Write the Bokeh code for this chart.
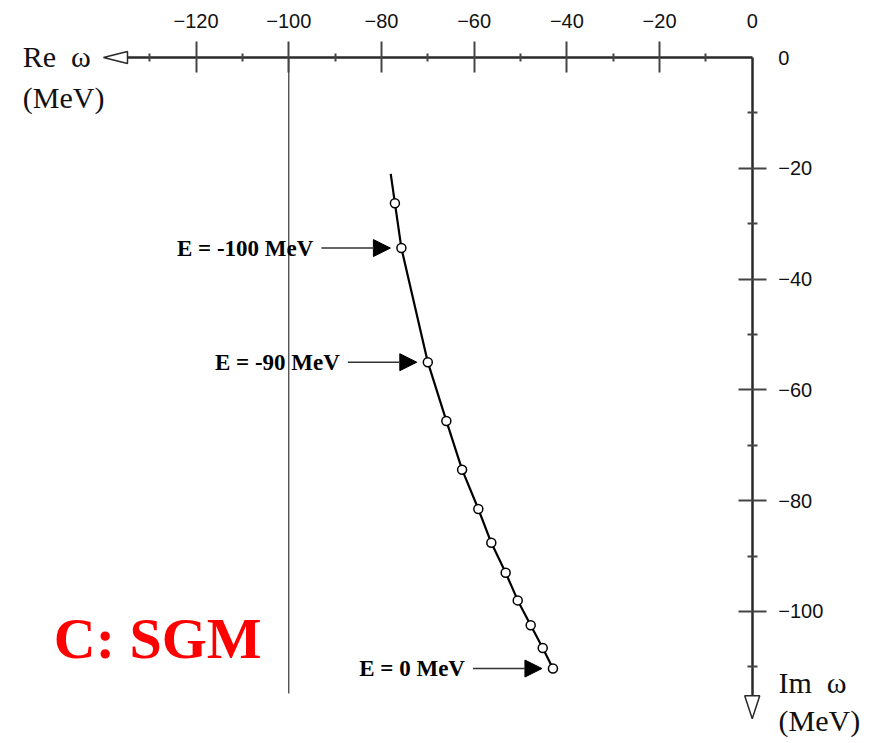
from bokeh.plotting import figure
from bokeh.models import (Range1d, LinearAxis, FixedTicker, Arrow, NormalHead, Label)
from bokeh.core.properties import value
from bokeh.embed import file_html
from bokeh.resources import INLINE

# ---- data ----
re_omega = [-77.1, -75.7, -70.0, -66.0, -62.6, -59.1, -56.3, -53.2, -50.6, -47.8, -45.2, -43.0]
im_omega = [-26.3, -34.4, -55.0, -65.6, -74.4, -81.5, -87.6, -93.0, -98.0, -102.5, -106.6, -110.3]
tail_re = [-78.0]
tail_im = [-21.0]
label_index = [1, 2, 11]
label_text = ["E = -100 MeV", "E = -90 MeV", "E = 0 MeV"]

x_ticks = [-120, -100, -80, -60, -40, -20]
x_minor = [-130, -110, -90, -70, -50, -30, -10]
y_ticks = [-20, -40, -60, -80, -100]
y_minor = [-10, -30, -50, -70, -90, -110]
x_axis_end = -134.8
y_axis_end = -115.2
ref_line_x = -100
ref_line_end = -114.8

W, H = 879, 743
p = figure(width=W, height=H, output_backend="svg", toolbar_location=None,
           x_range=Range1d(-162.2, 27.46), y_range=Range1d(-123.83, 10.29),
           x_axis_type=None, y_axis_type=None, min_border=0,
           outline_line_color=None)
p.xgrid.visible = False
p.ygrid.visible = False
p.background_fill_color = "white"

sx = 4.635  # px per unit x
sy = 5.54   # px per unit y

axis_color = "#2a2a2a"
tick_font = value("Liberation Sans")
tick_size = "20px"

top = LinearAxis(fixed_location=0, bounds=(x_axis_end, 0),
                 ticker=FixedTicker(ticks=x_ticks, minor_ticks=x_minor))
top.axis_line_color = axis_color
top.axis_line_width = 2.5
top.major_tick_line_color = "#444444"
top.major_tick_line_width = 2
top.major_tick_in = 15
top.major_tick_out = 16
top.minor_tick_line_color = "#444444"
top.minor_tick_line_width = 2
top.minor_tick_in = 4
top.minor_tick_out = 4
top.major_label_standoff = 14
top.major_label_text_font = "Liberation Sans"
top.major_label_text_font_size = tick_size
top.major_label_text_color = "#111111"
top.major_label_overrides = {t: "\u2212" + str(abs(t)) for t in x_ticks}
p.add_layout(top, "above")

right = LinearAxis(fixed_location=0, bounds=(y_axis_end, 0),
                   ticker=FixedTicker(ticks=y_ticks, minor_ticks=y_minor))
right.axis_line_color = axis_color
right.axis_line_width = 2.5
right.major_tick_line_color = "#444444"
right.major_tick_line_width = 2
right.major_tick_in = 14
right.major_tick_out = 14
right.minor_tick_line_color = "#444444"
right.minor_tick_line_width = 2
right.minor_tick_in = 5
right.minor_tick_out = 5
right.major_label_standoff = 12
right.major_label_text_font = "Liberation Sans"
right.major_label_text_font_size = tick_size
right.major_label_text_color = "#111111"
right.major_label_orientation = "horizontal"
right.major_label_overrides = {t: "\u2212" + str(abs(t)) for t in y_ticks}
p.add_layout(right, "right")

# zero labels at the corner
p.text(x=[0], y=[0], text=["0"], text_font=tick_font, text_font_size=tick_size,
       text_align="center", text_baseline="bottom", y_offset=-30, text_color="#111111")
p.text(x=[0], y=[0], text=["0"], text_font=tick_font, text_font_size=tick_size,
       text_align="left", text_baseline="middle", x_offset=26, text_color="#111111")

# axis arrowheads (open triangles)
p.patch(x=[x_axis_end, x_axis_end - 24 / sx, x_axis_end],
        y=[6 / sy, 0, -6 / sy], fill_color="white", line_color=axis_color, line_width=1.5)
p.patch(x=[-7.5 / sx, 0, 7.5 / sx],
        y=[y_axis_end, y_axis_end - 23 / sy, y_axis_end], fill_color="white",
        line_color=axis_color, line_width=1.5)

# reference vertical line
p.segment(x0=[ref_line_x], y0=[0], x1=[ref_line_x], y1=[ref_line_end],
          line_color="#333333", line_width=1.2)

# curve
p.line(x=tail_re + re_omega, y=tail_im + im_omega, line_color="black", line_width=2.2)
p.scatter(x=re_omega, y=im_omega, size=9, marker="circle", fill_color="white",
          line_color="black", line_width=1.5)

# energy labels with arrows
lx = [re_omega[i] for i in label_index]
ly = [im_omega[i] for i in label_index]
start_x = [x - 80 / sx for x in lx]
end_x = [x - 11 / sx for x in lx]
for xs, xe, y in zip(start_x, end_x, ly):
    p.add_layout(Arrow(end=NormalHead(size=17, fill_color="black", line_color="black"),
                       x_start=xs, y_start=y, x_end=xe, y_end=y,
                       line_color="#333333", line_width=1.5))
p.text(x=start_x, y=ly, text=label_text, text_font=value("Liberation Serif"),
       text_font_style="bold", text_font_size="23px", text_align="right",
       text_baseline="middle", x_offset=-8, text_color="black")

# axis titles
serif = "Liberation Serif"
p.add_layout(Label(x=-157.4, y=0.2, text="Re\u2002\u03c9",
                   text_font=serif, text_font_size="30px", text_align="left",
                   text_baseline="alphabetic", text_color="#111111"))
p.add_layout(Label(x=-157.4, y=-7.2, text="(MeV)", text_font=serif,
                   text_font_size="30px", text_align="left",
                   text_baseline="alphabetic", text_color="#111111"))
p.add_layout(Label(x=5.67, y=-112.8, text="Im\u2002\u03c9", text_font=serif,
                   text_font_size="30px", text_align="left",
                   text_baseline="alphabetic", text_color="#111111"))
p.add_layout(Label(x=5.67, y=-119.6, text="(MeV)", text_font=serif,
                   text_font_size="30px", text_align="left",
                   text_baseline="alphabetic", text_color="#111111"))

# panel tag
p.add_layout(Label(x=-150.7, y=-104.9, text="C: SGM", text_font=serif,
                   text_font_style="bold", text_font_size="58px",
                   text_color="#ff0000", text_baseline="alphabetic"))

open("out.html", "w").write(file_html(p, INLINE))
